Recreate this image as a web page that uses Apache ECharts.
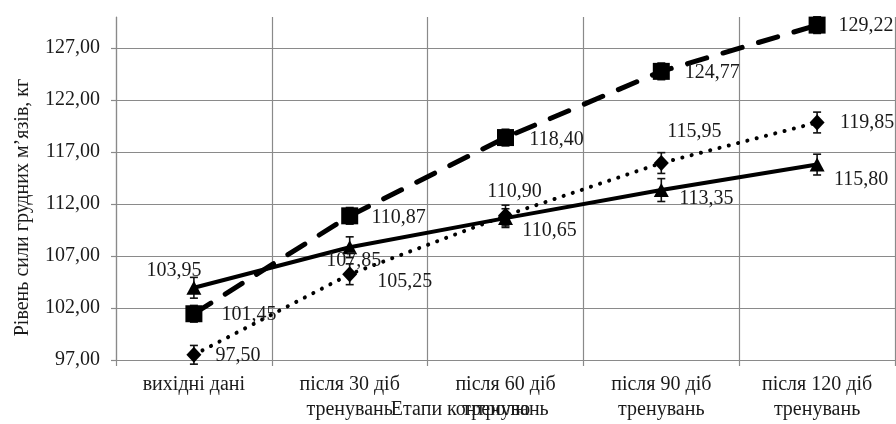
<!DOCTYPE html>
<html>
<head>
<meta charset="UTF-8">
<title>Рівень сили грудних м'язів</title>
<style>
  html, body { margin: 0; padding: 0; background: #fff; }
  #chart { width: 896px; height: 424px; }
</style>
</head>
<body>
<div id="chart"></div>
<script src="https://cdn.jsdelivr.net/npm/echarts@6/dist/echarts.min.js"></script>
<script>
// етапи контролю
var stages = ['вихідні дані', 'після 30 діб\nтренувань', 'після 60 діб\nтренувань', 'після 90 діб\nтренувань', 'після 120 діб\nтренувань'];
// три ряди (суцільна, штрихова, пунктирна лінії)
var solidVals  = [103.95, 107.85, 110.65, 113.35, 115.80];
var dashedVals = [101.45, 110.87, 118.40, 124.77, 129.22];
var dottedVals = [97.50, 105.25, 110.90, 115.95, 119.85];
// похибки (оцінка з рисунка)
var solidErr  = [1.0, 1.0, 0.9, 1.1, 1.0];
var dashedErr = [0.8, 0.8, 0.8, 0.8, 0.8];
var dottedErr = [0.9, 1.0, 1.0, 1.0, 1.0];

// зсув підписів відносно точки
var solidLbl  = [[-20, -17], [4, 14], [44, 13], [45, 9], [44, 15]];
var dashedLbl = [[55, 1], [49, 2], [51, 2], [51, 1], [49, 1]];
var dottedLbl = [[44, 1], [55, 7], [9, -24], [33, -31], [50, 0]];

var FONT = 'Liberation Serif';
var GREY = '#8a8a8a';

function fmt(v) { return v.toFixed(2).replace('.', ','); }

function pts(vals, lbl) {
  return vals.map(function (v, i) {
    return { value: v, label: { offset: lbl[i] } };
  });
}

function errData(vals, errs) {
  return vals.map(function (v, i) { return [i, v, errs[i]]; });
}

function errSeries(vals, errs) {
  return {
    type: 'custom',
    silent: true,
    z: 1,
    data: errData(vals, errs),
    renderItem: function (params, api) {
      var x = api.value(0), v = api.value(1), e = api.value(2);
      var top = api.coord([x, v + e]);
      var bot = api.coord([x, v - e]);
      var w = 4;
      var st = { stroke: '#111', lineWidth: 1.6 };
      return {
        type: 'group',
        children: [
          { type: 'line', shape: { x1: top[0], y1: top[1], x2: bot[0], y2: bot[1] }, style: st },
          { type: 'line', shape: { x1: top[0] - w, y1: top[1], x2: top[0] + w, y2: top[1] }, style: st },
          { type: 'line', shape: { x1: bot[0] - w, y1: bot[1], x2: bot[0] + w, y2: bot[1] }, style: st }
        ]
      };
    }
  };
}

var baseLabel = {
  show: true,
  position: 'inside',
  align: 'center',
  verticalAlign: 'middle',
  fontFamily: FONT,
  fontSize: 20,
  color: '#1a1a1a',
  formatter: function (p) { return fmt(p.value); }
};

var chart = echarts.init(document.getElementById('chart'));
var option = {
  backgroundColor: '#fff',
  animation: false,
  grid: { left: 116, right: 1, top: 17, bottom: 64, outerBoundsMode: 'none', containLabel: false },
  xAxis: {
    type: 'category',
    data: stages,
    boundaryGap: true,
    name: 'Етапи контролю',
    nameLocation: 'middle',
    nameGap: 40,
    nameMoveOverlap: false,
    nameTextStyle: { fontFamily: FONT, fontSize: 20, color: '#1a1a1a', padding: [0, 90, 0, 0] },
    axisLine: { lineStyle: { color: GREY, width: 1.2 } },
    axisTick: { show: true, length: 6, lineStyle: { color: GREY, width: 1.2 } },
    splitLine: { show: true, lineStyle: { color: GREY, width: 1.2 } },
    axisLabel: { fontFamily: FONT, fontSize: 20, color: '#1a1a1a', margin: 12, lineHeight: 25, interval: 0 }
  },
  yAxis: {
    type: 'value',
    min: 97,
    max: 130,
    interval: 5,
    name: 'Рівень сили грудних м’язів, кг',
    nameLocation: 'middle',
    nameGap: 83,
    nameMoveOverlap: false,
    nameTextStyle: { fontFamily: FONT, fontSize: 20, color: '#1a1a1a', padding: [0, 38, 0, 0] },
    axisLine: { show: true, lineStyle: { color: GREY, width: 1.2 } },
    axisTick: { show: true, length: 5, lineStyle: { color: GREY, width: 1.2 } },
    splitLine: { show: true, showMaxLine: false, lineStyle: { color: GREY, width: 1.2 } },
    axisLabel: {
      fontFamily: FONT, fontSize: 20, color: '#1a1a1a', margin: 16,
      showMaxLabel: false,
      formatter: function (v) { return fmt(v); }
    }
  },
  series: [
    errSeries(solidVals, solidErr),
    errSeries(dashedVals, dashedErr),
    errSeries(dottedVals, dottedErr),
    {
      type: 'line',
      data: pts(solidVals, solidLbl),
      symbol: 'triangle',
      symbolSize: [15, 14],
      itemStyle: { color: '#000' },
      lineStyle: { color: '#000', width: 4 },
      label: baseLabel,
      z: 3
    },
    {
      type: 'line',
      data: pts(dashedVals, dashedLbl),
      symbol: 'rect',
      symbolSize: [17, 17],
      itemStyle: { color: '#000' },
      lineStyle: { color: '#000', width: 5, type: [20, 17], cap: 'round' },
      label: baseLabel,
      z: 3
    },
    {
      type: 'line',
      data: pts(dottedVals, dottedLbl),
      symbol: 'diamond',
      symbolSize: [15, 16],
      itemStyle: { color: '#000' },
      lineStyle: { color: '#000', width: 4, type: [0.1, 9.5], cap: 'round' },
      label: baseLabel,
      z: 3
    }
  ]
};
chart.setOption(option);
</script>
</body>
</html>
